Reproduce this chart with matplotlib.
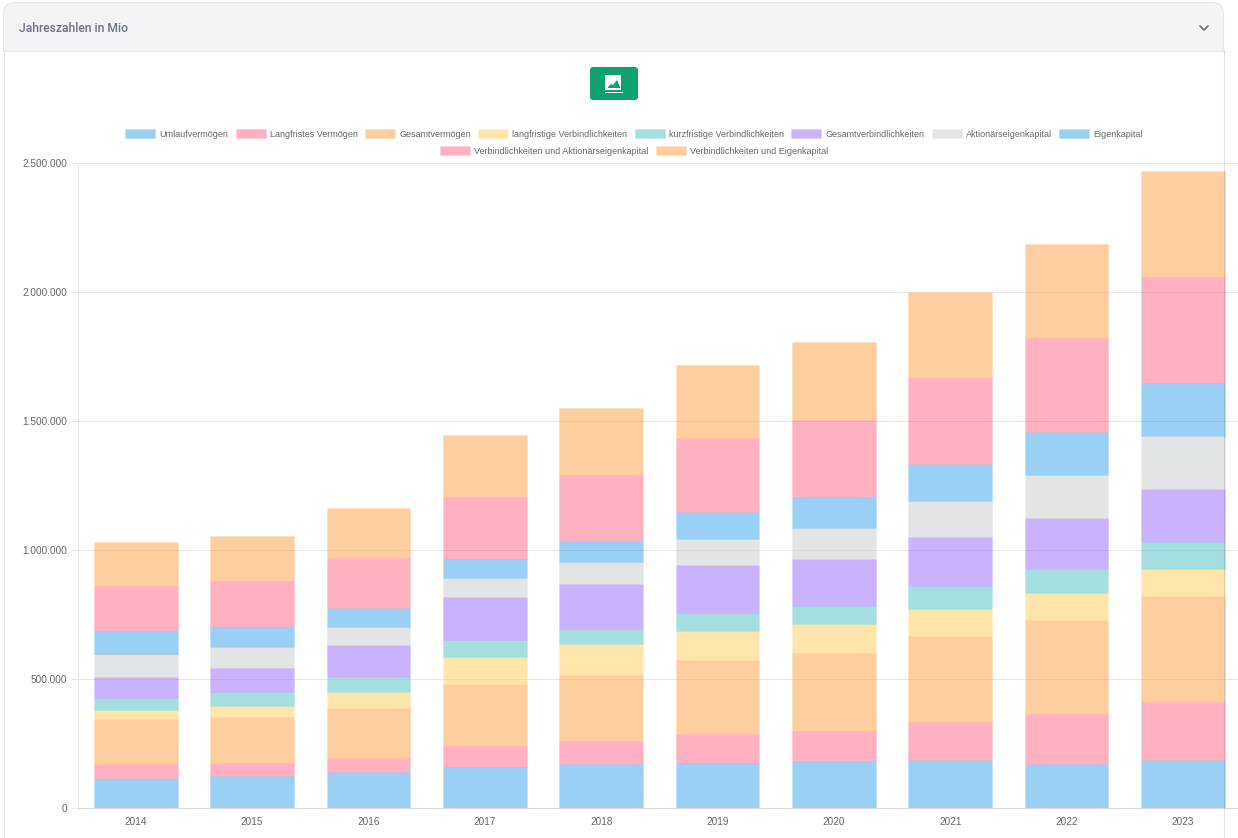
import matplotlib
matplotlib.use("Agg")
import matplotlib.pyplot as plt
from matplotlib.patches import FancyBboxPatch, Rectangle, Polygon
from matplotlib.ticker import FuncFormatter, MultipleLocator
import numpy as np

plt.rcParams['font.family'] = ['Liberation Sans', 'DejaVu Sans']

years = ['2014', '2015', '2016', '2017', '2018', '2019', '2020', '2021', '2022', '2023']

umlaufvermoegen = [115000, 125000, 141000, 160000, 171000, 176000, 182000, 186000, 171000, 186000]
langfristes_vermoegen = [58000, 50000, 54000, 83000, 88000, 111000, 119000, 148000, 196000, 226000]
gesamtvermoegen = [172000, 178000, 193000, 239000, 259000, 287000, 301000, 333000, 363000, 412000]
langfristige_verb = [37000, 45000, 63000, 105000, 119000, 114000, 112000, 105000, 103000, 102000]
kurzfristige_verb = [45000, 52000, 58000, 66000, 59000, 70000, 72000, 88000, 94000, 105000]
gesamtverb = [81000, 93000, 123000, 167000, 174000, 185000, 181000, 191000, 199000, 205000]
aktionaerseigenkapital = [92000, 81000, 71000, 74000, 84000, 102000, 119000, 142000, 167000, 207000]
eigenkapital = [89000, 80000, 72000, 71000, 81000, 102000, 119000, 142000, 167000, 205000]
verb_und_aktionaer = [173000, 176000, 194000, 242000, 258000, 287000, 300000, 333000, 364000, 412000]
verb_und_eigen = [172000, 177000, 194000, 241000, 260000, 286000, 302000, 335000, 364000, 411000]

series_names = ['Umlaufvermögen', 'Langfristes Vermögen', 'Gesamtvermögen',
                'langfristige Verbindlichkeiten', 'kurzfristige Verbindlichkeiten',
                'Gesamtverbindlichkeiten', 'Aktionärseigenkapital', 'Eigenkapital',
                'Verbindlichkeiten und Aktionärseigenkapital', 'Verbindlichkeiten und Eigenkapital']
series_values = [umlaufvermoegen, langfristes_vermoegen, gesamtvermoegen, langfristige_verb,
                 kurzfristige_verb, gesamtverb, aktionaerseigenkapital, eigenkapital,
                 verb_und_aktionaer, verb_und_eigen]
series_rgb = [(54, 162, 235), (255, 99, 132), (255, 159, 64), (255, 205, 86), (75, 192, 192),
              (153, 102, 255), (201, 203, 207), (54, 162, 235), (255, 99, 132), (255, 159, 64)]

W, H = 1238, 838
fig = plt.figure(figsize=(W / 100, H / 100), dpi=100, facecolor='white')

# page furniture in pixel coordinates
bg = fig.add_axes([0, 0, 1, 1], zorder=0)
bg.set_xlim(0, W)
bg.set_ylim(H, 0)
bg.axis('off')
border = '#e5e7eb'
bg.add_patch(FancyBboxPatch((3.5, 2.5), 1220, 80, boxstyle='round,pad=0,rounding_size=11',
                            fc='#f3f4f6', ec=border, lw=0.8))
bg.add_patch(Rectangle((2, 51), 1224, 40, fc='white', ec='none', zorder=2))
bg.plot([3.5, 1223.5], [51.5, 51.5], color=border, lw=0.8, zorder=3)
bg.plot([3.5, 3.5], [51, H], color=border, lw=0.8, zorder=3)
bg.text(19, 28, 'Jahreszahlen in Mio', fontsize=8.7, fontweight='medium', color='#6b7280',
        va='center', ha='left', family=['Roboto', 'DejaVu Sans'], zorder=4)
bg.plot([1200, 1204, 1208], [26, 30, 26], color='#6b7280', lw=1.3, zorder=4, solid_capstyle='round')

# download button
bg.add_patch(FancyBboxPatch((590, 67), 48, 33, boxstyle='round,pad=0,rounding_size=3',
                            fc='#0ea271', ec='none', zorder=4))
bg.add_patch(Rectangle((605, 75), 16, 15.5, fc='white', ec='none', zorder=5))
bg.add_patch(Rectangle((605, 92), 18, 1.2, fc='white', ec='none', zorder=5))
bg.add_patch(Polygon([(608, 87), (611, 84), (613, 85), (617, 80), (620.5, 88), (608, 88)],
                     fc='#0ea271', ec='none', zorder=6))

# chart
left, right, top, bottom = 77.6, W, 163.3, 808.3
ax = fig.add_axes([left / W, (H - bottom) / H, (right - left) / W, (bottom - top) / H],
                  zorder=1, facecolor='none')
cat_px = 116.35
x = np.arange(len(years))
stack = np.zeros(len(years))
handles = []
for name, vals, rgb in zip(series_names, series_values, series_rgb):
    c = tuple(v / 255 for v in rgb)
    bars = ax.bar(x, vals, width=0.72, bottom=stack, color=c + (0.5,), edgecolor=c + (0.08,),
                  linewidth=0.72, label=name, zorder=3)
    handles.append(bars)
    stack = stack + np.array(vals)

ax.set_xlim(-0.5, -0.5 + (right - left) / cat_px)
ax.set_ylim(0, 2500000)
ax.yaxis.set_major_locator(MultipleLocator(500000))
ax.yaxis.set_major_formatter(FuncFormatter(lambda v, _: f'{int(v):,}'.replace(',', '.')))
ax.set_xticks(x, years)
ax.grid(axis='y', color='#e8e8e8', lw=0.72, zorder=1)
ax.set_axisbelow(True)
ax.tick_params(axis='y', length=5, width=0.72, color='#e8e8e8', labelsize=7.2, labelcolor='#666666', pad=2.5)
ax.tick_params(axis='x', length=0, labelsize=7.2, labelcolor='#666666', pad=6)
for s in ('top', 'right'):
    ax.spines[s].set_visible(False)
ax.spines['left'].set_color('#e8e8e8')
ax.spines['left'].set_linewidth(0.72)
ax.spines['bottom'].set_color('#d6d6d6')
ax.spines['bottom'].set_linewidth(0.72)

# legends, two centred rows
legend_kw = dict(frameon=False, fontsize=6.5, labelcolor='#666666', handlelength=3.32, handleheight=1.0,
                 handletextpad=0.44, columnspacing=0.84, borderpad=0, borderaxespad=0, loc='center')
fig.legend(handles[:8], series_names[:8], ncol=8, bbox_to_anchor=(634 / W, (H - 134) / H), **legend_kw)
fig.legend(handles[8:], series_names[8:], ncol=2, bbox_to_anchor=(634 / W, (H - 151) / H), **legend_kw)

# card's right border runs over the chart
top_ax = fig.add_axes([0, 0, 1, 1], zorder=5, facecolor='none')
top_ax.set_xlim(0, W)
top_ax.set_ylim(H, 0)
top_ax.axis('off')
top_ax.plot([1223.5, 1223.5], [51, H], color='#000000', alpha=0.11, lw=0.8)

fig.savefig('out.png', dpi=100)
